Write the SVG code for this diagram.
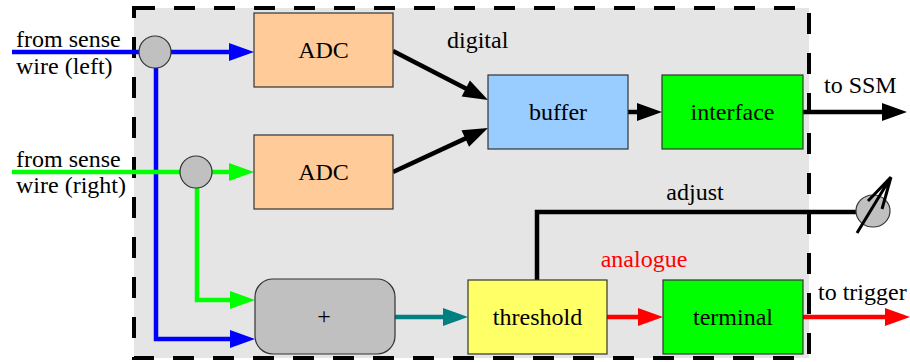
<svg xmlns="http://www.w3.org/2000/svg" width="910" height="362" viewBox="0 0 910 362">
<style>
text{font-family:"Liberation Serif","Times New Roman",serif;font-size:24px;fill:#000}
.c{text-anchor:middle}
.box{stroke:#333;stroke-width:1.2}
.ln{fill:none;stroke-width:4.5;stroke-linecap:butt;stroke-linejoin:miter}
.jn{fill:#c0c0c0;stroke:#333;stroke-width:1.2}
</style>
<defs>
<marker id="ab" markerUnits="userSpaceOnUse" markerWidth="25" markerHeight="18" refX="17" refY="9" orient="auto" overflow="visible"><path d="M0,0L25,9L0,18z" fill="#0000ff"/></marker>
<marker id="ag" markerUnits="userSpaceOnUse" markerWidth="25" markerHeight="18" refX="17" refY="9" orient="auto" overflow="visible"><path d="M0,0L25,9L0,18z" fill="#00ff00"/></marker>
<marker id="ak" markerUnits="userSpaceOnUse" markerWidth="25" markerHeight="18" refX="17" refY="9" orient="auto" overflow="visible"><path d="M0,0L25,9L0,18z" fill="#000"/></marker>
<marker id="at" markerUnits="userSpaceOnUse" markerWidth="25" markerHeight="18" refX="17" refY="9" orient="auto" overflow="visible"><path d="M0,0L25,9L0,18z" fill="#008080"/></marker>
<marker id="ar" markerUnits="userSpaceOnUse" markerWidth="25" markerHeight="18" refX="17" refY="9" orient="auto" overflow="visible"><path d="M0,0L25,9L0,18z" fill="#ff0000"/></marker>
</defs>
<g id="frame"><rect x="134" y="8" width="675" height="350" fill="#e5e5e5" stroke="#000" stroke-width="4" stroke-dasharray="21 19"/></g>
<g id="connectors">
<path class="ln" stroke="#0000ff" d="M12,52H139"/>
<path class="ln" stroke="#0000ff" d="M171,52H246" marker-end="url(#ab)"/>
<path class="ln" stroke="#0000ff" d="M156,68V339H247" marker-end="url(#ab)"/>
<path class="ln" stroke="#00ff00" d="M12,172H180"/>
<path class="ln" stroke="#00ff00" d="M212,172H246" marker-end="url(#ag)"/>
<path class="ln" stroke="#00ff00" d="M197,188V300H247" marker-end="url(#ag)"/>
<path class="ln" stroke="#000" d="M393,51L480.9,96.3" marker-end="url(#ak)"/>
<path class="ln" stroke="#000" d="M393,172L480.7,131.4" marker-end="url(#ak)"/>
<path class="ln" stroke="#000" d="M628,112H654" marker-end="url(#ak)"/>
<path class="ln" stroke="#000" d="M803,112H899" marker-end="url(#ak)"/>
<path class="ln" stroke="#008080" d="M395,317H460" marker-end="url(#at)"/>
<path class="ln" stroke="#ff0000" d="M607,317H655" marker-end="url(#ar)"/>
<path class="ln" stroke="#ff0000" d="M803,317H902" marker-end="url(#ar)"/>
<path class="ln" stroke="#000" d="M537,280V212H856"/>
</g>
<g id="junction-left"><circle class="jn" cx="155" cy="52" r="16"/></g>
<g id="junction-right"><circle class="jn" cx="196" cy="172" r="16"/></g>
<g id="adjust-knob">
<ellipse class="jn" cx="873" cy="211" rx="17" ry="16"/>
<path d="M857,233L891,177M891,177L868,201M891,177L882,209" fill="none" stroke="#000" stroke-width="3"/>
</g>
<g id="adc1"><rect class="box" x="254" y="13" width="139" height="74" fill="#ffcc99"/><text class="c" x="323.5" y="58">ADC</text></g>
<g id="adc2"><rect class="box" x="254" y="135" width="139" height="74" fill="#ffcc99"/><text class="c" x="323.5" y="180">ADC</text></g>
<g id="buffer"><rect class="box" x="488" y="75" width="140" height="74" fill="#99ccff"/><text class="c" x="558" y="120">buffer</text></g>
<g id="interface"><rect class="box" x="662" y="75" width="141" height="74" fill="#00ff00"/><text class="c" x="732.5" y="120">interface</text></g>
<g id="sum"><rect class="box" x="255" y="279" width="140" height="75" rx="18" ry="18" fill="#c0c0c0"/><text class="c" x="324" y="324">+</text></g>
<g id="threshold"><rect class="box" x="468" y="280" width="139" height="74" fill="#ffff66"/><text class="c" x="537.5" y="325">threshold</text></g>
<g id="terminal"><rect class="box" x="663" y="280" width="140" height="74" fill="#00ff00"/><text class="c" x="733" y="325">terminal</text></g>
<g id="labels">
<text x="16" y="47">from sense</text>
<text x="16" y="74">wire (left)</text>
<text x="16" y="167">from sense</text>
<text x="16" y="193">wire (right)</text>
<text x="447" y="48">digital</text>
<text x="824" y="93">to SSM</text>
<text class="c" x="695" y="200">adjust</text>
<text class="c" x="644" y="267" style="fill:#ff0000">analogue</text>
<text x="818" y="300">to trigger</text>
</g>
</svg>
